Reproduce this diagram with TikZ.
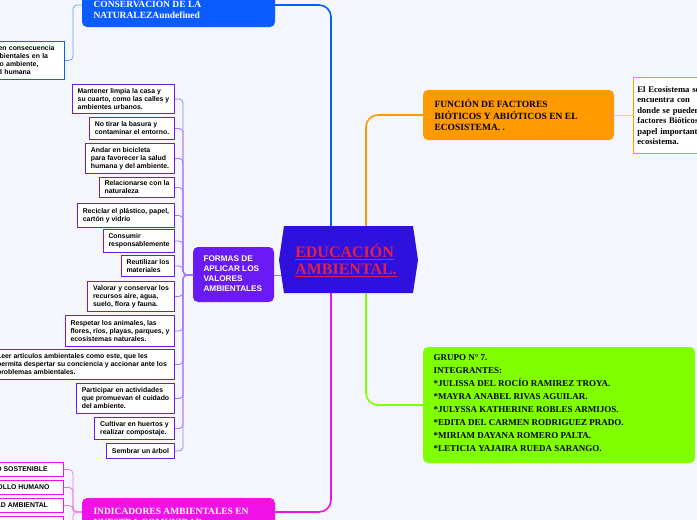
\documentclass[tikz,border=0pt]{standalone}
\usepackage{fontspec}
\setmainfont{Liberation Serif}
\setsansfont{Liberation Sans}
\usetikzlibrary{positioning}
\definecolor{bgc}{HTML}{F3F6FD}
\definecolor{blu}{HTML}{0A5CFF}
\definecolor{purp}{HTML}{6A1BF5}
\definecolor{cent}{HTML}{3010DD}
\definecolor{orng}{HTML}{FF9900}
\definecolor{grn}{HTML}{80FF00}
\definecolor{mag}{HTML}{F010E8}
\definecolor{titred}{HTML}{E0204A}
\begin{document}
\begin{tikzpicture}[x=1pt,y=-1pt,
  fbox/.style={draw=purp, line width=1pt, fill=white, anchor=north east, inner sep=2.5pt,
    font=\sffamily\bfseries\fontsize{6.9}{8}\selectfont, align=left},
  mbox/.style={fbox, draw=mag},
  fline/.style={draw=purp!60, line width=0.8pt, rounded corners=4pt},
  trunk/.style={line width=1.6pt, rounded corners=12pt}
  ]
\useasboundingbox (0,0) rectangle (697,520);
\fill[bgc] (0,0) rectangle (697,520);
\clip (0,0) rectangle (697,520);

% trunks from the centre
\draw[trunk, blu] (331,228) -- (331,5) -- (275,5);
\draw[trunk, mag] (331,292) -- (331,512) -- (275,512);
\draw[trunk, orng] (366,228) |- (423,115);
\draw[trunk, grn] (366,292) |- (423,405);
\draw[orng!50, line width=0.8pt] (614,115) -- (633,115);
\draw[purp!60, line width=0.8pt] (274,275) -- (282,275);

% centre
\fill[cent] (284,226) -- (413,226) -- (418,260) -- (413,293) -- (284,293) -- (279,260) -- cycle;
\node[font=\bfseries\fontsize{16}{17}\selectfont, text=titred, align=left] (centro) at (346,260)
  {\underline{EDUCACIÓN}\\\underline{AMBIENTAL.}};

% blue branch
\fill[blu, rounded corners=5pt] (82,-10) rectangle (275,27);
\node[text=white, font=\bfseries\fontsize{9.5}{11}\selectfont, align=left, anchor=west] (conserv) at (90,9)
  {CONSERVACIÓN DE LA\\NATURALEZAundefined};
\node[draw=blu, fill=white, line width=0.8pt, anchor=north east, minimum width=80pt, minimum height=38pt,
  inner sep=3pt, font=\sffamily\bfseries\fontsize{6.9}{8}\selectfont, align=left, text width=74pt] (consec) at (65,41)
  {\hspace*{6pt}r en consecuencia\\\hspace*{6pt}mbientales en la\\\hspace*{6pt}dio ambiente,\\\hspace*{6pt}ud humana};
\draw[blu!60, line width=0.8pt, rounded corners=4pt] (82,5) -- (73,5) |- (consec.east);

% orange branch
\fill[orng, rounded corners=5pt] (423,90) rectangle (614,140);
\node[font=\bfseries\fontsize{9.5}{11.5}\selectfont, align=left, anchor=west] (funcion) at (431,115)
  {FUNCIÓN DE FACTORES\\BIÓTICOS Y ABIÓTICOS EN EL\\ECOSISTEMA. .};
\node[draw=orng, fill=white, line width=0.8pt, anchor=north west, minimum width=80pt, minimum height=76pt,
  inner sep=4pt, font=\bfseries\fontsize{8.6}{10.5}\selectfont, align=left, text width=80pt] (ecosis) at (633,77)
  {El Ecosistema se\\encuentra con\\donde se pueden\\factores Bióticos\\papel importante\\ecosistema.};

% green branch
\fill[grn, rounded corners=5pt] (423,347) rectangle (695,463);
\node[font=\bfseries\fontsize{9}{13}\selectfont, align=left, anchor=north west] (grupo) at (430,351)
  {GRUPO N° 7.\\INTEGRANTES:\\*JULISSA DEL ROCÍO RAMIREZ TROYA.\\*MAYRA ANABEL RIVAS AGUILAR.\\
   *JULYSSA KATHERINE ROBLES ARMIJOS.\\*EDITA DEL CARMEN RODRIGUEZ PRADO.\\
   *MIRIAM DAYANA ROMERO PALTA.\\*LETICIA YAJAIRA RUEDA SARANGO.};

% magenta branch
\fill[mag, rounded corners=5pt] (82,498) rectangle (275,535);
\node[text=white, font=\bfseries\fontsize{9.5}{11}\selectfont, align=left, anchor=north west] (indic) at (90,505)
  {INDICADORES AMBIENTALES EN\\NUESTRA COMUNIDAD};
\node[mbox, minimum width=90pt, minimum height=14pt] (m1) at (64,462) {ICO SOSTENIBLE};
\node[mbox, minimum width=90pt, minimum height=14pt] (m2) at (64,480) {RROLLO HUMANO};
\node[mbox, minimum width=90pt, minimum height=14pt] (m3) at (64,498) {IDAD AMBIENTAL};
\node[mbox, minimum width=90pt, minimum height=14pt] (m4) at (64,516) {};
\foreach \m in {m1,m2,m3,m4}
  \draw[mag!60, line width=0.8pt, rounded corners=4pt] (82,512) -- (73,512) |- (\m.east);

% purple branch
\fill[purp, rounded corners=5pt] (193,247) rectangle (274,302);
\node[text=white, font=\sffamily\bfseries\fontsize{8.2}{10}\selectfont, align=left, anchor=west] (formas) at (200,274)
  {FORMAS DE\\APLICAR LOS\\VALORES\\AMBIENTALES};
\node[fbox, minimum width=102pt, minimum height=29pt] (f1) at (175,84) {Mantener limpia la casa y\\su cuarto, como las calles y\\ambientes urbanos.};
\node[fbox, minimum width=85pt, minimum height=22pt] (f2) at (175,117) {No tirar la basura y\\contaminar el entorno.};
\node[fbox, minimum width=89pt, minimum height=30pt] (f3) at (175,143) {Andar en bicicleta\\para favorecer la salud\\humana y del ambiente.};
\node[fbox, minimum width=75pt, minimum height=20pt] (f4) at (175,177) {Relacionarse con la\\naturaleza};
\node[fbox, minimum width=97pt, minimum height=24pt] (f5) at (175,203) {Reciclar el plástico, papel,\\cartón y vidrio};
\node[fbox, minimum width=71pt, minimum height=23pt] (f6) at (175,229) {Consumir\\responsablemente};
\node[fbox, minimum width=53pt, minimum height=21pt] (f7) at (175,255) {Reutilizar los\\materiales};
\node[fbox, minimum width=87pt, minimum height=30pt] (f8) at (175,281) {Valorar y conservar los\\recursos aire, agua,\\suelo, flora y fauna.};
\node[fbox, minimum width=109pt, minimum height=31pt] (f9) at (175,315) {Respetar los animales, las\\flores, ríos, playas, parques, y\\ecosistemas naturales.};
\node[fbox, minimum width=185pt, minimum height=30pt] (f10) at (175,349) {Leer artículos ambientales como este, que les\\permita despertar su conciencia y accionar ante los\\problemas ambientales.};
\node[fbox, minimum width=98pt, minimum height=30pt] (f11) at (175,383) {Participar en actividades\\que promuevan el cuidado\\del ambiente.};
\node[fbox, minimum width=80pt, minimum height=22pt] (f12) at (175,417) {Cultivar en huertos y\\realizar compostaje.};
\node[fbox, minimum width=68pt, minimum height=15pt] (f13) at (175,443) {Sembrar un árbol};
\foreach \f in {f1,f2,f3,f4,f5,f6,f7,f8,f9,f10,f11,f12,f13}
  \draw[fline] (193,275) -- (183,275) |- (\f.east);
\end{tikzpicture}
\end{document}
